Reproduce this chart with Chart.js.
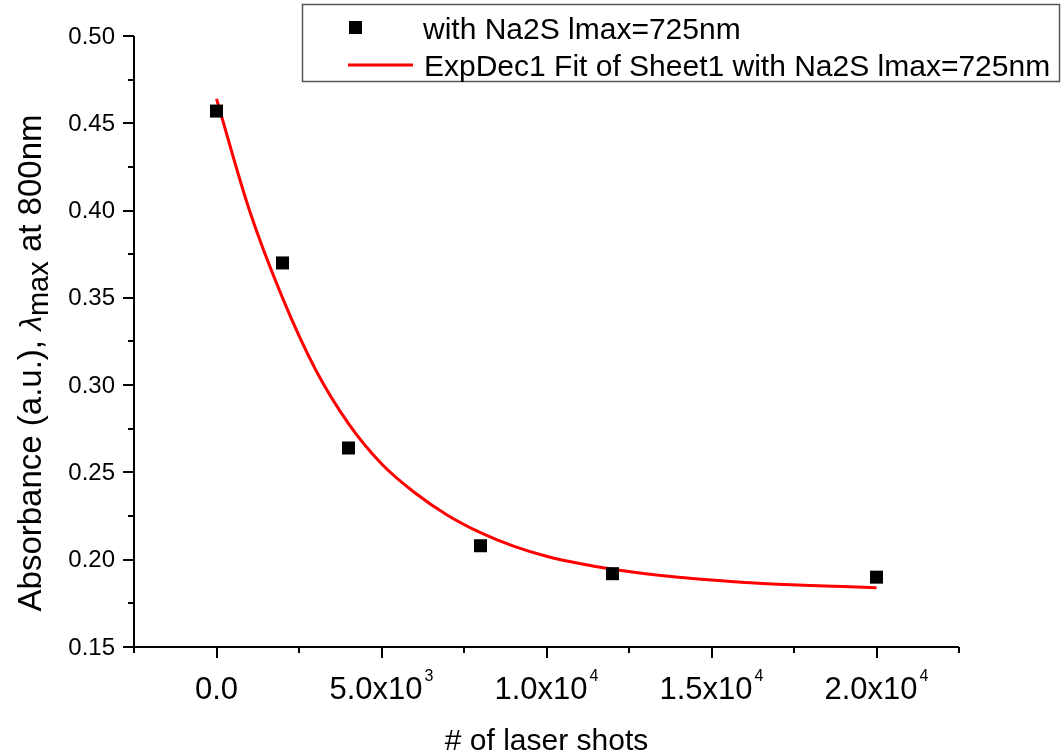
<!DOCTYPE html>
<html>
<head>
<meta charset="utf-8">
<script src="https://cdn.jsdelivr.net/npm/chart.js@4/dist/chart.umd.min.js"></script>
<style>
  html, body { margin: 0; padding: 0; background: #fff; }
  #wrap { width: 1063px; height: 754px; }
</style>
</head>
<body>
<div id="wrap"><canvas id="absChart" width="1063" height="754"></canvas></div>
<script>
// measured points
const shots = [0, 2000, 4000, 8000, 12000, 20000];
const absorbance = [0.457, 0.370, 0.264, 0.208, 0.192, 0.190];

// ExpDec1 fit curve, read along its length
const fitShots = [0, 1000, 2000, 3000, 4000, 5000, 6000, 7000, 8000, 9000, 10000,
  11000, 12000, 13000, 14000, 15000, 16000, 17000, 18000, 19000, 20000];
const fitAbsorbance = [0.464, 0.400, 0.350, 0.309, 0.278, 0.255, 0.2385, 0.2255, 0.2155, 0.2078, 0.2020,
  0.1978, 0.1945, 0.1920, 0.1900, 0.1884, 0.1870, 0.1860, 0.1852, 0.1846, 0.1840];

// axis ticks
const xMajor = [0, 5000, 10000, 15000, 20000];
const xMinor = [-2500, 2500, 7500, 12500, 17500, 22500];
const xTickMantissa = ["0.0", "5.0x10", "1.0x10", "1.5x10", "2.0x10"];
const xTickExponent = ["", "3", "4", "4", "4"];
const yMajor = [0.15, 0.20, 0.25, 0.30, 0.35, 0.40, 0.45, 0.50];
const yMinor = [0.175, 0.225, 0.275, 0.325, 0.375, 0.425, 0.475];
const yTickLabels = ["0.15", "0.20", "0.25", "0.30", "0.35", "0.40", "0.45", "0.50"];

const seriesLabel = "with Na2S lmax=725nm";
const fitLabel = "ExpDec1 Fit of Sheet1 with Na2S lmax=725nm";

const FONT = 'Arial, "Liberation Sans", sans-serif';

const axesPlugin = {
  id: "originAxes",
  afterDatasetsDraw(chart) {
    const { ctx, chartArea: a, scales: { x, y } } = chart;
    ctx.save();
    ctx.strokeStyle = "#000";
    ctx.fillStyle = "#000";
    ctx.lineWidth = 2;

    // axis lines
    ctx.beginPath();
    ctx.moveTo(a.left, a.top);
    ctx.lineTo(a.left, a.bottom);
    ctx.lineTo(a.right, a.bottom);
    ctx.stroke();

    // y ticks
    ctx.beginPath();
    yMajor.forEach(v => {
      const py = Math.round(y.getPixelForValue(v));
      ctx.moveTo(a.left, py);
      ctx.lineTo(a.left - 11, py);
    });
    yMinor.forEach(v => {
      const py = Math.round(y.getPixelForValue(v));
      ctx.moveTo(a.left, py);
      ctx.lineTo(a.left - 6, py);
    });
    // x ticks
    xMajor.forEach(v => {
      const px = Math.round(x.getPixelForValue(v));
      ctx.moveTo(px, a.bottom);
      ctx.lineTo(px, a.bottom + 11);
    });
    xMinor.forEach(v => {
      const px = Math.round(x.getPixelForValue(v));
      ctx.moveTo(px, a.bottom);
      ctx.lineTo(px, a.bottom + 6);
    });
    ctx.stroke();

    // y tick labels
    ctx.font = "24px " + FONT;
    ctx.textAlign = "right";
    ctx.textBaseline = "middle";
    yMajor.forEach((v, i) => {
      ctx.fillText(yTickLabels[i], a.left - 19, y.getPixelForValue(v) + 1);
    });

    // x tick labels with superscript exponent
    ctx.textBaseline = "alphabetic";
    ctx.textAlign = "left";
    xMajor.forEach((v, i) => {
      const px = x.getPixelForValue(v);
      ctx.font = "31px " + FONT;
      const mw = ctx.measureText(xTickMantissa[i]).width;
      ctx.font = "16px " + FONT;
      const ew = xTickExponent[i] ? ctx.measureText(xTickExponent[i]).width + 2 : 0;
      const left = px - (mw + ew) / 2;
      ctx.font = "31px " + FONT;
      ctx.fillText(xTickMantissa[i], left, a.bottom + 52);
      if (xTickExponent[i]) {
        ctx.font = "16px " + FONT;
        ctx.fillText(xTickExponent[i], left + mw + 2, a.bottom + 34);
      }
    });

    // x title
    ctx.font = "30px " + FONT;
    ctx.textAlign = "center";
    ctx.fillText("# of laser shots", (a.left + a.right) / 2, 750);

    // y title with subscript
    const parts = [
      { t: "Absorbance (a.u.), ", f: "33px " + FONT, dy: 0 },
      { t: "\u03bb", f: "italic 30px " + FONT, dy: 0 },
      { t: "max", f: "29px " + FONT, dy: 7 },
      { t: " at 800nm", f: "33px " + FONT, dy: 0 }
    ];
    let total = 0;
    parts.forEach(p => { ctx.font = p.f; p.w = ctx.measureText(p.t).width; total += p.w; });
    ctx.translate(41, 363);
    ctx.rotate(-Math.PI / 2);
    let cx = -total / 2;
    ctx.textAlign = "left";
    parts.forEach(p => {
      ctx.font = p.f;
      ctx.fillText(p.t, cx, p.dy);
      cx += p.w;
    });
    ctx.restore();

    // legend box
    ctx.save();
    ctx.strokeStyle = "#555";
    ctx.lineWidth = 1.5;
    ctx.strokeRect(302.5, 4.5, 757, 77);
    ctx.fillStyle = "#000";
    ctx.fillRect(349, 21, 13, 13);
    ctx.strokeStyle = "#ff0000";
    ctx.lineWidth = 3;
    ctx.beginPath();
    ctx.moveTo(348, 65);
    ctx.lineTo(413, 65);
    ctx.stroke();
    ctx.fillStyle = "#000";
    ctx.font = "30px " + FONT;
    ctx.textAlign = "left";
    ctx.textBaseline = "alphabetic";
    ctx.fillText(seriesLabel, 423, 39);
    ctx.fillText(fitLabel, 424, 76);
    ctx.restore();
  }
};

new Chart(document.getElementById("absChart"), {
  type: "scatter",
  data: {
    datasets: [
      {
        label: seriesLabel,
        data: shots.map((s, i) => ({ x: s, y: absorbance[i] })),
        pointStyle: "rect",
        pointRadius: 9.2,
        pointBackgroundColor: "#000",
        pointBorderWidth: 0,
        showLine: false,
        order: 1
      },
      {
        label: fitLabel,
        data: fitShots.map((s, i) => ({ x: s, y: fitAbsorbance[i] })),
        showLine: true,
        borderColor: "#ff0000",
        borderWidth: 3,
        pointRadius: 0,
        cubicInterpolationMode: "monotone",
        order: 2
      }
    ]
  },
  options: {
    responsive: false,
    animation: false,
    layout: { padding: { left: 134, right: 104, top: 36, bottom: 107 } },
    plugins: { legend: { display: false }, tooltip: { enabled: false } },
    scales: {
      x: { type: "linear", min: -2500, max: 22500, display: false },
      y: { type: "linear", min: 0.15, max: 0.50, display: false }
    }
  },
  plugins: [axesPlugin]
});
</script>
</body>
</html>
